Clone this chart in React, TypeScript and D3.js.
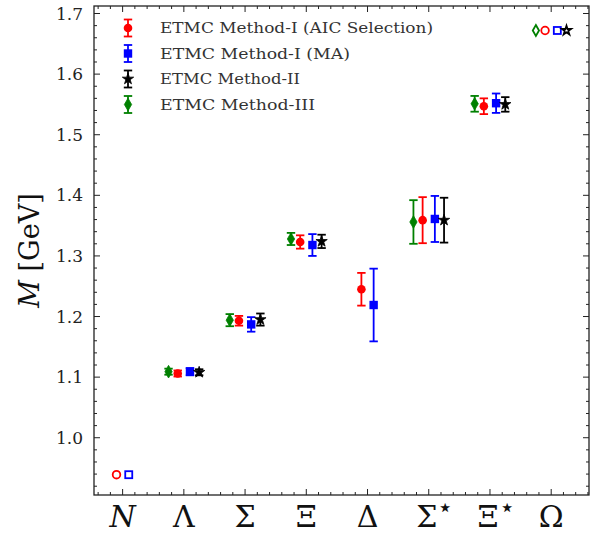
import * as d3 from "d3";

const categories = ["N", "Λ", "Σ", "Ξ", "Δ", "Σ⋆", "Ξ⋆", "Ω"];
const inputs = ["N", "Ω"];

// values and errors per method, null = no point
const aicVals = [0.939, 1.106, 1.193, 1.323, 1.245, 1.359, 1.547, 1.672];
const aicErrs = [0, 0.005, 0.008, 0.011, 0.027, 0.038, 0.013, 0];
const maVals = [0.939, 1.109, 1.187, 1.318, 1.219, 1.361, 1.552, 1.672];
const maErrs = [0, 0.006, 0.012, 0.018, 0.06, 0.038, 0.016, 0];
const m2Vals = [null, 1.108, 1.195, 1.324, null, 1.359, 1.55, 1.672];
const m2Errs = [null, 0.005, 0.01, 0.011, null, 0.037, 0.012, 0];
const m3Vals = [null, 1.109, 1.194, 1.328, null, 1.356, 1.551, 1.672];
const m3Errs = [null, 0.005, 0.01, 0.01, null, 0.036, 0.013, 0];

const yTicks = [1.0, 1.1, 1.2, 1.3, 1.4, 1.5, 1.6, 1.7];

const methods = [
  { name: "ETMC Method-I (AIC Selection)", vals: aicVals, errs: aicErrs, color: "#ff0000", shape: "circle", dx: -0.1 },
  { name: "ETMC Method-I (MA)", vals: maVals, errs: maErrs, color: "#0000ff", shape: "square", dx: 0.1 },
  { name: "ETMC Method-II", vals: m2Vals, errs: m2Errs, color: "#000000", shape: "star", dx: 0.25 },
  { name: "ETMC Method-III", vals: m3Vals, errs: m3Errs, color: "#008000", shape: "diamond", dx: -0.25 },
];
// approx. widths of legend labels in the reference
const legendWidths = [273, 190, 140, 155];

const W = 611;
const H = 536;
const left = 94, right = 589, top = 6, bottom = 495;
const serif = "'DejaVu Serif', serif";

const x = d3.scaleLinear().domain([-0.4675, 7.6175]).range([left, right]);
const y = d3.scaleLinear().domain([0.9055, 1.7124]).range([bottom, top]);

function Marker({ shape, color, cx, cy, open }: any) {
  const fill = open ? "white" : color;
  const sw = open ? 1.8 : 0;
  if (shape === "circle") return <circle cx={cx} cy={cy} r={open ? 3.8 : 4.3} fill={fill} stroke={color} strokeWidth={sw} />;
  if (shape === "square") {
    const s = open ? 7 : 8.4;
    return <rect x={cx - s / 2} y={cy - s / 2} width={s} height={s} fill={fill} stroke={color} strokeWidth={sw} />;
  }
  const type = shape === "star" ? d3.symbolStar : d3.symbolDiamond;
  const size = shape === "star" ? (open ? 26 : 40) : (open ? 34 : 46);
  const d = d3.symbol().type(type).size(size)() as string;
  return <path d={d} transform={`translate(${cx},${cy})`} fill={fill} stroke={color} strokeWidth={open ? 1.8 : 0.8} strokeLinejoin="miter" />;
}

function ErrBar({ cx, cy0, cy1, color }: any) {
  const cap = 4.2;
  return (
    <g stroke={color} strokeWidth={1.8}>
      <line x1={cx} x2={cx} y1={cy0} y2={cy1} />
      <line x1={cx - cap} x2={cx + cap} y1={cy0} y2={cy0} />
      <line x1={cx - cap} x2={cx + cap} y1={cy1} y2={cy1} />
    </g>
  );
}

export default function App() {
  const xMajor = d3.range(0, 8);
  const xMinor = d3.range(-0.4, 7.61, 0.2).filter((v) => Math.abs(v - Math.round(v)) > 1e-6);
  const yMinor = d3.range(0.92, 1.711, 0.02).filter((v) => Math.abs(v * 10 - Math.round(v * 10)) > 1e-6);

  return (
    <svg width={W} height={H} style={{ position: "absolute", left: 0, top: 0 }}>
      <rect width={W} height={H} fill="white" />
      {/* ticks */}
      <g stroke="#222" strokeWidth={1}>
        {xMajor.map((v) => (
          <g key={"xM" + v}>
            <line x1={x(v)} x2={x(v)} y1={bottom} y2={bottom - 6} />
            <line x1={x(v)} x2={x(v)} y1={top} y2={top + 6} />
          </g>
        ))}
        {xMinor.map((v) => (
          <g key={"xm" + v}>
            <line x1={x(v)} x2={x(v)} y1={bottom} y2={bottom - 3} />
            <line x1={x(v)} x2={x(v)} y1={top} y2={top + 3} />
          </g>
        ))}
        {yTicks.map((v) => (
          <g key={"yM" + v}>
            <line x1={left} x2={left + 6} y1={y(v)} y2={y(v)} />
            <line x1={right} x2={right - 6} y1={y(v)} y2={y(v)} />
          </g>
        ))}
        {yMinor.map((v) => (
          <g key={"ym" + v}>
            <line x1={left} x2={left + 3} y1={y(v)} y2={y(v)} />
            <line x1={right} x2={right - 3} y1={y(v)} y2={y(v)} />
          </g>
        ))}
      </g>
      <rect x={left} y={top} width={right - left} height={bottom - top} fill="none" stroke="#222" strokeWidth={1.3} />

      {/* y tick labels */}
      {yTicks.map((v) => (
        <text key={"yl" + v} x={83} y={y(v) + 6} textAnchor="end" fontFamily={serif} fontSize={17} fill="#222">
          {v.toFixed(1)}
        </text>
      ))}
      {/* x tick labels */}
      {categories.map((c, i) => {
        const star = c.endsWith("⋆");
        const base = star ? c.slice(0, -1) : c;
        return (
          <text key={"xl" + c} x={x(i) + (star ? 6 : 0)} y={527} textAnchor="middle" fontFamily={serif} fontSize={30} fill="#111" fontStyle={c === "N" ? "italic" : "normal"}>
            {base}
            {star && <tspan fontSize={26} dy={-11}>⋆</tspan>}
          </text>
        );
      })}
      {/* y label */}
      <text transform={`translate(39,${(top + bottom) / 2}) rotate(-90)`} textAnchor="middle" fontFamily={serif} fontSize={27} fill="#111">
        <tspan fontStyle="italic">M</tspan> [GeV]
      </text>

      {/* data */}
      {methods.map((m) =>
        m.vals.map((v, i) => {
          if (v == null) return null;
          const cx = x(i + m.dx);
          const e = m.errs[i] as number;
          const open = inputs.includes(categories[i]);
          return (
            <g key={m.name + i}>
              {e > 0 && <ErrBar cx={cx} cy0={y(v - e)} cy1={y(v + e)} color={m.color} />}
              <Marker shape={m.shape} color={m.color} cx={cx} cy={y(v)} open={open} />
            </g>
          );
        })
      )}

      {/* legend */}
      {methods.map((m, i) => {
        const ly = 28 + i * 25.5;
        return (
          <g key={"lg" + m.name}>
            <ErrBar cx={128} cy0={ly - 8.5} cy1={ly + 8.5} color={m.color} />
            <Marker shape={m.shape} color={m.color} cx={128} cy={ly} open={false} />
            <text x={160} y={ly + 5} fontFamily={serif} fontSize={15} fill="#333" textLength={legendWidths[i]} lengthAdjust="spacingAndGlyphs">
              {m.name}
            </text>
          </g>
        );
      })}
    </svg>
  );
}
